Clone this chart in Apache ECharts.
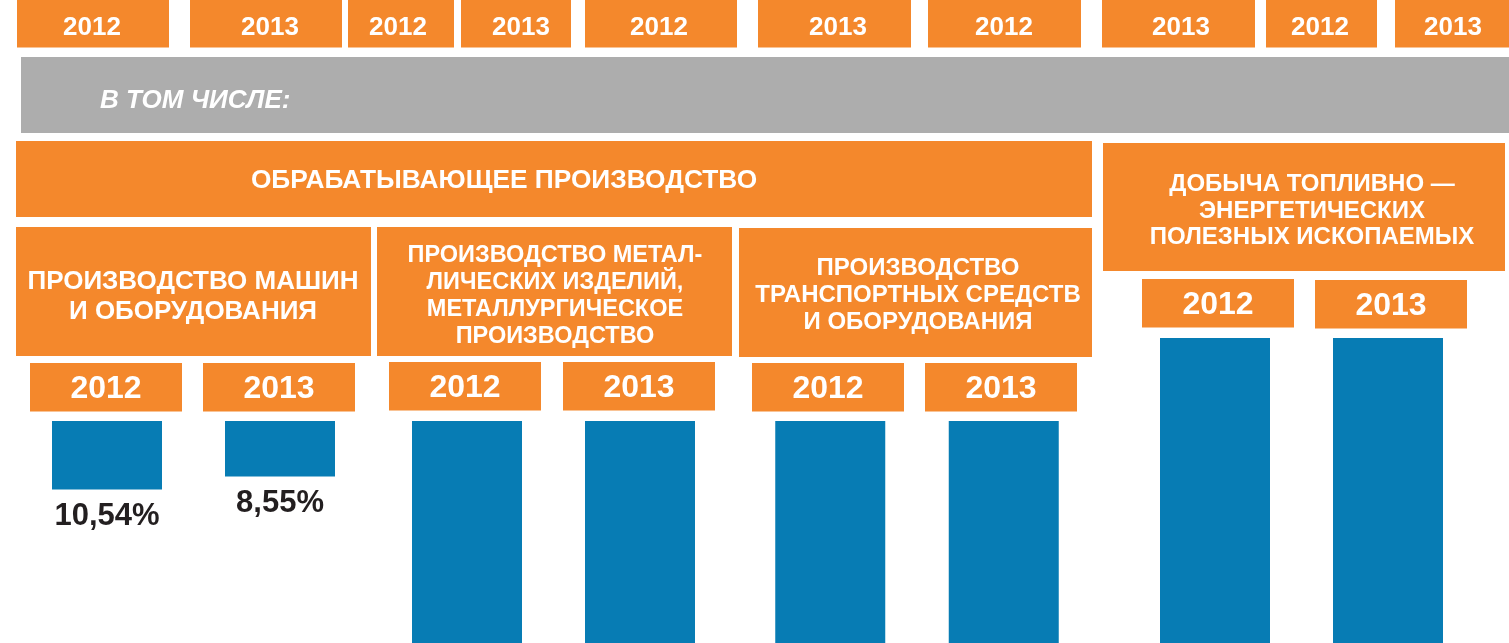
<!DOCTYPE html>
<html>
<head>
<meta charset="utf-8">
<title>Доля отраслей</title>
<script src="https://cdn.jsdelivr.net/npm/echarts@6/dist/echarts.min.js"></script>
<style>
  html, body { margin: 0; padding: 0; background: #fff; }
  #chart { width: 1509px; height: 643px; }
</style>
</head>
<body>
<div id="chart"></div>
<script>
// данные
const years = ['2012', '2013'];
const machineShare = [10.54, 8.55];
const metalShare = [38.6, 37.9];      // столбцы уходят за край картинки, оценка
const transportShare = [36.4, 35.7];
const fuelShare = [54.2, 53.6];
const topYears = ['2012', '2013', '2012', '2013', '2012', '2013', '2012', '2013', '2012', '2013'];
const captionText = 'В ТОМ ЧИСЛЕ:';
const sectionTitles = ['ОБРАБАТЫВАЮЩЕЕ ПРОИЗВОДСТВО', 'ДОБЫЧА ТОПЛИВНО —\nЭНЕРГЕТИЧЕСКИХ\nПОЛЕЗНЫХ ИСКОПАЕМЫХ'];
const branchTitles = [
  'ПРОИЗВОДСТВО МАШИН\nИ ОБОРУДОВАНИЯ',
  'ПРОИЗВОДСТВО МЕТАЛ-\nЛИЧЕСКИХ ИЗДЕЛИЙ,\nМЕТАЛЛУРГИЧЕСКОЕ\nПРОИЗВОДСТВО',
  'ПРОИЗВОДСТВО\nТРАНСПОРТНЫХ СРЕДСТВ\nИ ОБОРУДОВАНИЯ'
];

const ORANGE = '#f4882c';
const BLUE = '#077cb4';
const GREY = '#adadad';
const FONT = '"Liberation Sans", Arial, sans-serif';
const PX_PER_PCT = 6.5;
const H = 643;
const DY = 2.5; // сдвиг текста вниз

let chart = echarts.init(document.getElementById('chart'));

// сетки под каждую группу столбцов
const groups = [
  { data: machineShare, left: 20.5, top: 421, width: 346, label: true },
  { data: metalShare, left: 380.5, top: 421, width: 346 },
  { data: transportShare, left: 743.5, top: 421, width: 347 },
  { data: fuelShare, left: 1128.5, top: 338, width: 346 }
];

function box(x, y, w, h, fill) {
  return { type: 'rect', silent: true, shape: { x: x, y: y, width: w, height: h }, style: { fill: fill } };
}
function txt(x, y, text, size, lh, opts) {
  opts = opts || {};
  return {
    type: 'text', silent: true, x: x, y: y + DY,
    style: {
      text: text, x: 0, y: 0,
      fill: '#fff',
      fontFamily: FONT, fontWeight: 'bold', fontSize: size,
      fontStyle: opts.italic ? 'italic' : 'normal',
      lineHeight: lh,
      align: opts.align || 'center', verticalAlign: 'middle'
    }
  };
}

let graphic = [];

// верхний ряд годов
const topBoxes = [
  [17, 152, 92], [190, 152, 270], [348, 106, 398], [461, 110, 521], [585, 152, 659],
  [758, 153, 838], [928, 153, 1004], [1102, 153, 1181], [1266, 111, 1320], [1395, 114, 1453]
];
topBoxes.forEach(function (b, i) {
  graphic.push(box(b[0], 0, b[1], 47.5, ORANGE));
  graphic.push(txt(b[2], 25, topYears[i], 26, 28));
});

// серая полоса
graphic.push(box(21, 57, 1488, 76, GREY));
graphic.push(txt(100, 98, captionText, 26, 28, { italic: true, align: 'left' }));

// разделы
graphic.push(box(16, 141, 1076, 76, ORANGE));
graphic.push(txt(504, 178.5, sectionTitles[0], 26.3, 30));
graphic.push(box(1103, 143, 402, 128, ORANGE));
graphic.push(txt(1312, 208.5, sectionTitles[1], 24, 26.5));

// подразделы
const branchBoxes = [
  [16, 227, 355, 129, 193, 294, 26, 30],
  [377, 227, 355, 129, 555, 293.5, 23.5, 26.7],
  [739, 228, 353, 129, 918, 293, 24, 27]
];
branchBoxes.forEach(function (b, i) {
  graphic.push(box(b[0], b[1], b[2], b[3], ORANGE));
  graphic.push(txt(b[4], b[5], branchTitles[i], b[6], b[7]));
});

// годы над столбцами
const yearBoxes = [
  [30, 363], [203, 363], [389, 362], [563, 362], [752, 363], [925, 363], [1142, 279], [1315, 280]
];
yearBoxes.forEach(function (b, i) {
  graphic.push(box(b[0], b[1], 152, 48.5, ORANGE));
  graphic.push(txt(b[0] + 76, b[1] + 23.5, years[i % 2], 32, 34));
});

let option = {
  backgroundColor: '#fff',
  animation: false,
  grid: groups.map(function (g) {
    return { left: g.left, top: g.top, width: g.width, bottom: 0 };
  }),
  xAxis: groups.map(function (g, i) {
    return { type: 'category', gridIndex: i, data: years, show: false };
  }),
  yAxis: groups.map(function (g, i) {
    return {
      type: 'value', gridIndex: i, inverse: true, show: false,
      min: 0, max: (H - g.top) / PX_PER_PCT
    };
  }),
  series: groups.map(function (g, i) {
    return {
      type: 'bar',
      xAxisIndex: i,
      yAxisIndex: i,
      data: g.data,
      barWidth: 110,
      clip: true,
      itemStyle: { color: BLUE },
      label: {
        show: !!g.label,
        position: 'bottom',
        distance: 11,
        color: '#231f20',
        fontFamily: FONT,
        fontWeight: 'bold',
        fontSize: 31,
        formatter: function (p) {
          return p.value.toFixed(2).replace('.', ',') + '%';
        }
      }
    };
  }),
  graphic: graphic
};

chart.setOption(option);
</script>
</body>
</html>
